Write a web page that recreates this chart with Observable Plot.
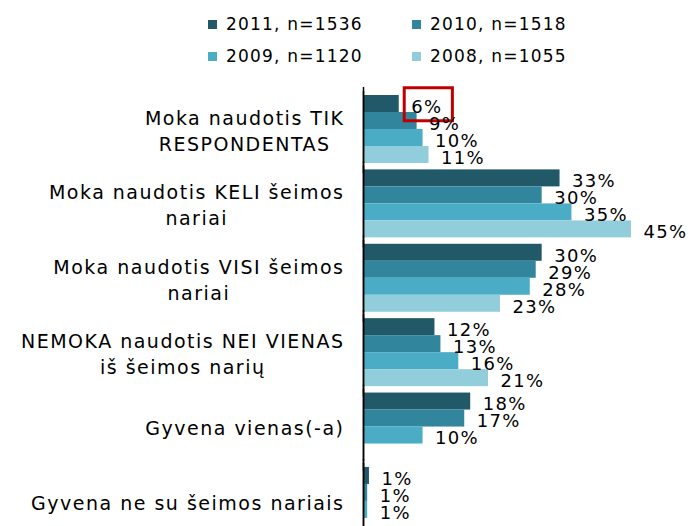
<!DOCTYPE html>
<html>
<head>
<meta charset="utf-8">
<script src="https://cdn.jsdelivr.net/npm/d3@7"></script>
<script src="https://cdn.jsdelivr.net/npm/@observablehq/plot@0.6"></script>
<style>
  body { margin: 0; background: #fff; overflow: hidden; font-family: "DejaVu Sans", sans-serif; }
  #legend { position: relative; width: 691px; height: 75px; }
  .item { position: absolute; display: flex; align-items: center; font-size: 17px; letter-spacing: 1.2px; color: #000; line-height: 20px; white-space: nowrap; }
  .sw { width: 9px; height: 9px; margin-right: 9px; }
  #chart svg g[aria-label="text"] text { letter-spacing: 1.3px; }
  #chart svg g[aria-label="fy-axis tick label"] text { letter-spacing: 1.5px; }
</style>
</head>
<body>
<div id="legend"></div>
<div id="chart"></div>
<script>
// ---- data ----
const categories = [
  "Moka naudotis TIK\nRESPONDENTAS",
  "Moka naudotis KELI šeimos\nnariai",
  "Moka naudotis VISI šeimos\nnariai",
  "NEMOKA naudotis NEI VIENAS\niš šeimos narių",
  "Gyvena vienas(-a)",
  "Gyvena ne su šeimos nariais"
];
const series = ["2011, n=1536", "2010, n=1518", "2009, n=1120", "2008, n=1055"];
const colors = ["#215968", "#31859C", "#4BACC6", "#92CDDC"];
const values2011 = [6, 33, 30, 12, 18, 1];
const values2010 = [9, 30, 29, 13, 17, 0.7];
const values2009 = [10, 35, 28, 16, 10, 0.7];
const values2008 = [11, 45, 23, 21, null, null];
const highlightCategory = categories[0];
const highlightSeries = series[0];

// ---- table ----
const seriesValues = [values2011, values2010, values2009, values2008];
const rows = [];
categories.forEach((c, j) => {
  series.forEach((s, i) => {
    const v = seriesValues[i][j];
    if (v != null) rows.push({category: c, series: s, value: v});
  });
});
const label = d => Math.round(d.value) + "%";
const isHighlight = d => d.category === highlightCategory && d.series === highlightSeries;

// ---- legend (2 x 2) ----
const legend = document.getElementById("legend");
const legendPos = [[208, 14], [412, 14], [208, 46], [412, 46]];
series.forEach((s, i) => {
  const it = document.createElement("div");
  it.className = "item";
  it.style.left = legendPos[i][0] + "px";
  it.style.top = legendPos[i][1] + "px";
  const sw = document.createElement("span");
  sw.className = "sw";
  sw.style.background = colors[i];
  it.appendChild(sw);
  it.appendChild(document.createTextNode(s));
  legend.appendChild(it);
});

// ---- chart ----
const chart = Plot.plot({
  width: 691,
  height: 460,
  marginLeft: 363,
  marginRight: 60,
  marginTop: 20,
  marginBottom: 0,
  style: {fontFamily: "DejaVu Sans", background: "#fff", overflow: "visible"},
  x: {axis: null},
  y: {domain: series, axis: null, padding: 0},
  fy: {domain: categories, paddingInner: 0.085, paddingOuter: 0, round: false, label: null},
  color: {domain: series, range: colors},
  marks: [
    Plot.barX(rows, {fy: "category", y: "series", x: "value", fill: "series"}),
    Plot.text(rows, {
      fy: "category", y: "series", x: "value", text: label,
      textAnchor: "start", dx: 12, dy: 3, fontSize: 18, fill: "#000",
      ariaLabel: d => (isHighlight(d) ? "highlight" : label(d))
    }),
    Plot.axisFy({anchor: "left", tickSize: 0, tickPadding: 19, fontSize: 19, lineHeight: 1.37, label: null, fill: "#000"}),
    Plot.ruleX([0], {stroke: "#000", strokeWidth: 1.5, insetTop: -4, insetBottom: -10}),
    Plot.ruleX([0], {stroke: "#000", strokeWidth: 1.5, insetTop: -8, facet: "exclude"})
  ]
});
document.getElementById("chart").appendChild(chart);

// center multi-line category labels as blocks, right edge at the tick position
chart.querySelectorAll('g[aria-label="fy-axis tick label"] text').forEach(t => {
  const spans = t.querySelectorAll("tspan");
  if (spans.length < 2) return;
  const w = Math.max(...Array.from(spans, s => s.getComputedTextLength()));
  t.setAttribute("text-anchor", "middle");
  t.setAttribute("transform", (t.getAttribute("transform") || "") + ` translate(${-w / 2},0)`);
});

// red highlight box around the highlighted label
chart.querySelectorAll('text[aria-label="highlight"]').forEach(t => {
  const bb = t.getBBox();
  const r = document.createElementNS("http://www.w3.org/2000/svg", "rect");
  r.setAttribute("x", bb.x - 7);
  r.setAttribute("y", bb.y - 8);
  r.setAttribute("width", bb.width + 17);
  r.setAttribute("height", bb.height + 12);
  r.setAttribute("fill", "none");
  r.setAttribute("stroke", "#C00000");
  r.setAttribute("stroke-width", 3);
  const tr = t.getAttribute("transform");
  if (tr) r.setAttribute("transform", tr);
  t.parentNode.insertBefore(r, t);
});
</script>
</body>
</html>
